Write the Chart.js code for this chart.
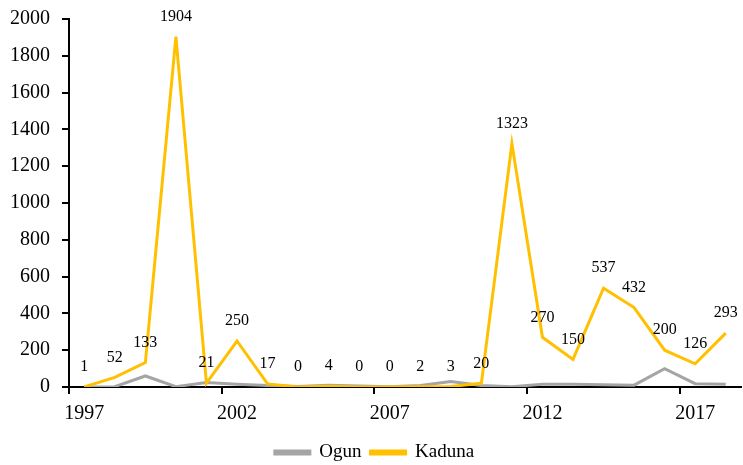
<!DOCTYPE html>
<html>
<head>
<meta charset="utf-8">
<script src="https://cdn.jsdelivr.net/npm/chart.js@4"></script>
<style>
    html, body { margin: 0; padding: 0; background: #fff; }
    canvas { display: block; }
</style>
</head>
<body>
<canvas id="line-chart" width="743" height="465"></canvas>
<script>
const years = ['1997', '1998', '1999', '2000', '2001', '2002', '2003', '2004', '2005', '2006', '2007',
    '2008', '2009', '2010', '2011', '2012', '2013', '2014', '2015', '2016', '2017', '2018'];
const ogun = [0, 2, 60, 2, 25, 15, 8, 3, 10, 5, 2, 8, 30, 8, 2, 15, 15, 12, 10, 100, 18, 15];
const kaduna = [1, 52, 133, 1904, 21, 250, 17, 0, 4, 0, 0, 2, 3, 20, 1323, 270, 150, 537, 432, 200, 126, 293];

const serif = '"Liberation Serif", "Times New Roman", serif';

// value labels above the Kaduna line
const pointLabels = {
    id: 'pointLabels',
    afterDatasetsDraw(chart) {
        const ctx = chart.ctx;
        const meta = chart.getDatasetMeta(1);
        ctx.save();
        ctx.font = '16px ' + serif;
        ctx.fillStyle = '#000';
        ctx.textAlign = 'center';
        ctx.textBaseline = 'middle';
        meta.data.forEach((pt, i) => {
            ctx.fillText(String(kaduna[i]), pt.x, pt.y - 20);
        });
        ctx.restore();
    }
};

const ctx = document.getElementById('line-chart').getContext('2d');
// eslint-disable-next-line no-undef, no-unused-vars
const lineChart = new Chart(ctx, {
    type: 'line',
    data: {
        labels: years,
        datasets: [{
            label: 'Ogun',
            data: ogun,
            borderColor: '#A5A5A5',
            backgroundColor: '#A5A5A5',
            borderWidth: 3,
            pointRadius: 0,
            tension: 0,
            order: 1
        },
        {
            label: 'Kaduna',
            data: kaduna,
            borderColor: '#FFC000',
            backgroundColor: '#FFC000',
            borderWidth: 3,
            pointRadius: 0,
            tension: 0,
            order: 0
        }]
    },
    options: {
        responsive: false,
        animation: false,
        devicePixelRatio: 1,
        layout: {
            padding: { left: 8, right: 2, top: 19, bottom: -7 }
        },
        scales: {
            x: {
                offset: true,
                grid: {
                    offset: true,
                    drawOnChartArea: false,
                    drawTicks: true,
                    tickLength: 7,
                    lineWidth: 2,
                    color: (c) => (c.index % 5 === 0 ? '#000' : 'rgba(0,0,0,0)')
                },
                border: { display: true, color: '#000', width: 2 },
                ticks: {
                    autoSkip: false,
                    maxRotation: 0,
                    padding: 8,
                    color: '#000',
                    font: { family: serif, size: 20 },
                    callback: function (val, i) {
                        return i % 5 === 0 ? years[i] : '';
                    }
                }
            },
            y: {
                min: 0,
                max: 2000,
                afterFit: (scale) => {
                    scale.width = 61;
                    scale.paddingTop = 0;
                },
                grid: {
                    drawOnChartArea: false,
                    drawTicks: true,
                    tickLength: 7,
                    lineWidth: 2,
                    color: '#000'
                },
                border: { display: true, color: '#000', width: 2 },
                ticks: {
                    stepSize: 200,
                    padding: 12,
                    color: '#000',
                    font: { family: serif, size: 20 },
                    callback: (v) => String(v)
                }
            }
        },
        plugins: {
            legend: {
                position: 'bottom',
                labels: {
                    boxWidth: 35,
                    boxHeight: 3,
                    padding: 9,
                    color: '#000',
                    font: { family: serif, size: 19 },
                    sort: (a, b) => a.datasetIndex - b.datasetIndex
                }
            },
            tooltip: { enabled: false }
        }
    },
    plugins: [pointLabels]
});
</script>
</body>
</html>
